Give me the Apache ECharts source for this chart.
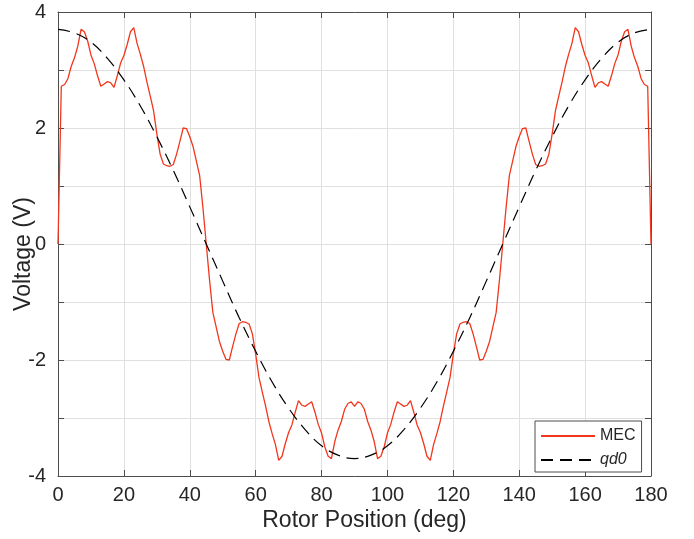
<!DOCTYPE html>
<html>
<head>
<meta charset="utf-8">
<script src="https://cdn.jsdelivr.net/npm/echarts@6/dist/echarts.min.js"></script>
<style>
  html, body { margin: 0; padding: 0; background: #fff; }
  #chart { width: 694px; height: 539px; }
</style>
</head>
<body>
<div id="chart"></div>
<script>
// MEC voltage, one sample per degree (0..180)
const mecVolt = [
  0, 2.72, 2.75, 2.85, 3.06, 3.21, 3.41, 3.70, 3.66, 3.50,
  3.26, 3.11, 2.90, 2.72, 2.76, 2.80, 2.78, 2.70, 2.90, 3.12,
  3.25, 3.44, 3.66, 3.73, 3.46, 3.27, 3.06, 2.79, 2.55, 2.30,
  1.90, 1.55, 1.38, 1.35, 1.34, 1.37, 1.55, 1.77, 2.00, 1.99,
  1.85, 1.68, 1.43, 1.18, 0.62, 0.00, -0.62, -1.18, -1.43, -1.68,
  -1.85, -1.99, -2.00, -1.77, -1.55, -1.37, -1.34, -1.35, -1.38, -1.55,
  -1.90, -2.30, -2.55, -2.79, -3.06, -3.27, -3.46, -3.73, -3.66, -3.44,
  -3.25, -3.12, -2.90, -2.70, -2.78, -2.80, -2.76, -2.72, -2.90, -3.11,
  -3.26, -3.50, -3.66, -3.70, -3.41, -3.21, -3.06, -2.85, -2.75, -2.72,
  -2.80, -2.72, -2.75, -2.85, -3.06, -3.21, -3.41, -3.70, -3.66, -3.50,
  -3.26, -3.11, -2.90, -2.72, -2.76, -2.80, -2.78, -2.70, -2.90, -3.12,
  -3.25, -3.44, -3.66, -3.73, -3.46, -3.27, -3.06, -2.79, -2.55, -2.30,
  -1.90, -1.55, -1.38, -1.35, -1.34, -1.37, -1.55, -1.77, -2.00, -1.99,
  -1.85, -1.68, -1.43, -1.18, -0.62, 0.00, 0.62, 1.18, 1.43, 1.68,
  1.85, 1.99, 2.00, 1.77, 1.55, 1.37, 1.34, 1.35, 1.38, 1.55,
  1.90, 2.30, 2.55, 2.79, 3.06, 3.27, 3.46, 3.73, 3.66, 3.44,
  3.25, 3.12, 2.90, 2.70, 2.78, 2.80, 2.76, 2.72, 2.90, 3.11,
  3.26, 3.50, 3.66, 3.70, 3.41, 3.21, 3.06, 2.85, 2.75, 2.72,
  0
]

// qd0 reference curve
const qdDeg = [0, 5, 10, 15, 20, 25, 30, 35, 40, 45, 50, 55, 60, 65, 70, 75, 80, 85, 90,
  95, 100, 105, 110, 115, 120, 125, 130, 135, 140, 145, 150, 155, 160, 165, 170, 175, 180]
const qdVolt = [3.70, 3.64, 3.48, 3.20, 2.83, 2.38, 1.85, 1.27, 0.64, 0, -0.64, -1.27, -1.85, -2.38, -2.83, -3.20, -3.48, -3.64, -3.70,
  -3.64, -3.48, -3.20, -2.83, -2.38, -1.85, -1.27, -0.64, 0, 0.64, 1.27, 1.85, 2.38, 2.83, 3.20, 3.48, 3.64, 3.70]

const yLabels = [-4, -2, 0, 2, 4]

const txt = '#262626'
const axisCol = '#4d4d4d'
const font = 'Liberation Sans, Arial, Helvetica, sans-serif'

const chart = echarts.init(document.getElementById('chart'))

const xBase = {
  type: 'value', min: 0, max: 180, interval: 20,
  axisLine: { show: true, onZero: false, lineStyle: { color: axisCol, width: 1 } },
  axisTick: { show: true, inside: true, length: 6, lineStyle: { color: axisCol } },
  splitLine: { show: false }
}
const yBase = {
  type: 'value', min: -4, max: 4, interval: 1,
  axisLine: { show: true, onZero: false, lineStyle: { color: axisCol, width: 1 } },
  axisTick: { show: true, inside: true, length: 6, lineStyle: { color: axisCol } },
  splitLine: { show: false }
}

chart.setOption({
  animation: false,
  textStyle: { fontFamily: font },
  grid: { left: 58, right: 43, top: 12, bottom: 63, containLabel: false, outerBoundsMode: 'none' },
  legend: {
    orient: 'vertical',
    left: 535, top: 421,
    padding: [7, 6, 4, 5],
    itemGap: 8,
    itemWidth: 54, itemHeight: 16,
    backgroundColor: '#fff',
    borderColor: axisCol, borderWidth: 1, borderRadius: 0,
    itemStyle: { opacity: 0, color: 'transparent', borderWidth: 0 },
    data: ['MEC', 'qd0'],
    formatter: name => name === 'qd0' ? '{i|qd0}' : name,
    textStyle: {
      color: txt, fontSize: 16, fontFamily: font,
      rich: { i: { fontStyle: 'italic', fontSize: 16, color: txt, fontFamily: font } }
    }
  },
  xAxis: [
    Object.assign({}, xBase, {
      position: 'bottom',
      name: 'Rotor Position (deg)', nameLocation: 'middle', nameGap: 33, nameMoveOverlap: false,
      nameTextStyle: { color: txt, fontSize: 23, fontFamily: font, padding: [0, 0, 0, 20] },
      axisLabel: { color: txt, fontSize: 20, margin: 9, fontFamily: font },
      splitLine: { show: true, lineStyle: { color: '#e0e0e0', width: 1 } }
    }),
    Object.assign({}, xBase, { position: 'top', axisLabel: { show: false } })
  ],
  yAxis: [
    Object.assign({}, yBase, {
      position: 'left',
      name: 'Voltage (V)', nameLocation: 'middle', nameGap: 23, nameMoveOverlap: false,
      nameTextStyle: { color: txt, fontSize: 23, fontFamily: font, padding: [0, 20, 0, 0] },
      axisLabel: {
        color: txt, fontSize: 20, margin: 12, fontFamily: font,
        formatter: v => yLabels.includes(v) ? String(v) : ''
      },
      splitLine: { show: true, lineStyle: { color: '#e0e0e0', width: 1 } }
    }),
    Object.assign({}, yBase, { position: 'right', axisLabel: { show: false } })
  ],
  series: [
    {
      name: 'MEC', type: 'line',
      data: mecVolt.map((v, i) => [i, v]),
      showSymbol: false, symbol: 'none',
      lineStyle: { color: '#f2361c', width: 1.3 },
      itemStyle: { color: '#f2361c' },
      z: 3
    },
    {
      name: 'qd0', type: 'line',
      data: qdDeg.map((d, i) => [d, qdVolt[i]]),
      smooth: 0.4,
      showSymbol: false, symbol: 'none',
      lineStyle: { color: '#000', width: 1.2, type: [12, 7] },
      itemStyle: { color: '#000' },
      z: 4
    }
  ]
})
</script>
</body>
</html>
